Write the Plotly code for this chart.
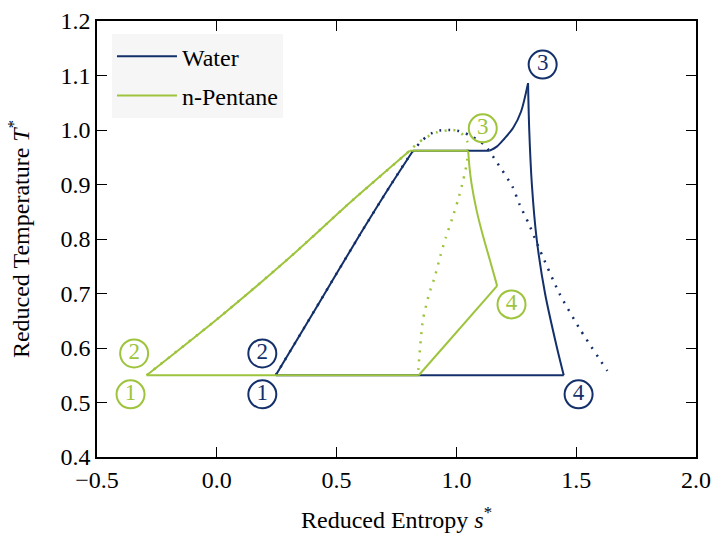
import plotly.graph_objects as go

# ---- Water cycle (reduced entropy s*, reduced temperature T*) ----
water_cycle_s = [0.246, 0.43, 0.60, 0.72, 0.819, 1.139, 1.17, 1.20, 1.237, 1.27, 1.299,
                 1.304, 1.315, 1.335, 1.37, 1.42, 1.448, 0.246]
water_cycle_T = [0.55, 0.685, 0.81, 0.895, 0.962, 0.962, 0.970, 0.984, 1.004, 1.034, 1.086,
                 1.0, 0.9, 0.8, 0.7, 0.6, 0.55, 0.55]
# index ranges of each process: (start, end, curved?)
water_segments = [(0, 4, True), (4, 5, False), (5, 10, True), (10, 16, True), (16, 17, False)]

# Water saturation dome
water_dome_s = [0.246, 0.43, 0.60, 0.72, 0.819, 0.86, 0.896, 0.931, 0.97, 1.01, 1.053,
                1.119, 1.167, 1.234, 1.265, 1.30, 1.348, 1.43, 1.515, 1.63]
water_dome_T = [0.55, 0.685, 0.81, 0.895, 0.962, 0.982, 0.994, 0.999, 1.0, 0.998, 0.991,
                0.972, 0.942, 0.896, 0.862, 0.83, 0.78, 0.70, 0.635, 0.558]

# ---- n-Pentane cycle ----
pentane_cycle_s = [-0.293, 0.0125, 0.291, 0.569, 0.805, 1.049, 1.055, 1.063, 1.084, 1.112,
                   1.14, 1.17, 0.843, -0.293]
pentane_cycle_T = [0.55, 0.657, 0.761, 0.872, 0.962, 0.962, 0.93, 0.902, 0.853, 0.804,
                   0.761, 0.714, 0.55, 0.55]
pentane_segments = [(0, 4, True), (4, 5, False), (5, 11, True), (11, 12, False), (12, 13, False)]

# n-Pentane saturation dome
pentane_dome_s = [-0.293, 0.0125, 0.291, 0.569, 0.805, 0.833, 0.868, 0.92, 0.984, 1.014,
                  1.045, 1.045, 1.028, 1.007, 0.982, 0.956, 0.933, 0.91, 0.886, 0.86,
                  0.843, 0.84]
pentane_dome_T = [0.55, 0.657, 0.761, 0.872, 0.962, 0.974, 0.985, 0.996, 1.0, 0.997,
                  0.979, 0.944, 0.907, 0.872, 0.837, 0.803, 0.769, 0.731, 0.699, 0.651,
                  0.572, 0.55]

# State-point labels
water_label_s = [0.19, 0.19, 1.36, 1.51]
water_label_T = [0.515, 0.59, 1.12, 0.515]
water_label_text = ["1", "2", "3", "4"]
pentane_label_s = [-0.36, -0.345, 1.11, 1.23]
pentane_label_T = [0.515, 0.59, 1.003, 0.68]
pentane_label_text = ["1", "2", "3", "4"]

NAVY = "#13306a"
GREEN = "#9dc43c"
SERIF = "Liberation Serif"
DOTS = "2px,7px"
FS = 24

fig = go.Figure()

fig.add_trace(go.Scatter(x=water_dome_s, y=water_dome_T, mode="lines",
                         line=dict(color=NAVY, width=2.5, dash=DOTS, shape="spline", smoothing=0.6),
                         showlegend=False, hoverinfo="skip"))
fig.add_trace(go.Scatter(x=pentane_dome_s, y=pentane_dome_T, mode="lines",
                         line=dict(color=GREEN, width=2.5, dash=DOTS, shape="spline", smoothing=0.6),
                         showlegend=False, hoverinfo="skip"))


def add_cycle(s, T, segments, name, group, color):
    for k, (a, b, curved) in enumerate(segments):
        fig.add_trace(go.Scatter(
            x=s[a:b + 1], y=T[a:b + 1], mode="lines", name=name,
            legendgroup=group, showlegend=(k == 0),
            line=dict(color=color, width=2, shape="spline" if curved else "linear",
                      smoothing=0.8)))


add_cycle(water_cycle_s, water_cycle_T, water_segments, "Water", "w", NAVY)
add_cycle(pentane_cycle_s, pentane_cycle_T, pentane_segments, "n-Pentane", "p", GREEN)

for xs, ys, txt, col in [(water_label_s, water_label_T, water_label_text, NAVY),
                         (pentane_label_s, pentane_label_T, pentane_label_text, GREEN)]:
    fig.add_trace(go.Scatter(
        x=xs, y=ys, mode="markers+text", text=txt, textposition="middle center",
        textfont=dict(family=SERIF, size=23, color=col),
        marker=dict(symbol="circle-open", size=28, color=col, line=dict(width=2, color=col)),
        showlegend=False, hoverinfo="skip"))

axis_common = dict(
    showgrid=False, zeroline=False, showline=True, linecolor="black", linewidth=1.5,
    mirror="ticks", ticks="inside", ticklen=10, tickwidth=1.2, tickcolor="black",
    tickfont=dict(family=SERIF, size=FS, color="black"), automargin=False,
)

fig.update_layout(
    width=714, height=538,
    margin=dict(l=97, r=18, t=21, b=81),
    paper_bgcolor="white", plot_bgcolor="white",
    font=dict(family=SERIF, color="black"),
    xaxis=dict(range=[-0.5, 2.0], tickvals=[-0.5, 0.0, 0.5, 1.0, 1.5, 2.0],
               ticktext=["\u22120.5", "0.0", "0.5", "1.0", "1.5", "2.0"],
               title=dict(text="Reduced Entropy <i>s</i><sup>*</sup>",
                          font=dict(family=SERIF, size=FS), standoff=20),
               **axis_common),
    yaxis=dict(range=[0.4, 1.2], tickvals=[0.4, 0.5, 0.6, 0.7, 0.8, 0.9, 1.0, 1.1, 1.2],
               ticktext=["0.4", "0.5", "0.6", "0.7", "0.8", "0.9", "1.0", "1.1", "1.2"],
               title=dict(text="Reduced Temperature <i>T</i><sup>*</sup>",
                          font=dict(family=SERIF, size=FS), standoff=24),
               **axis_common),
    legend=dict(x=0.025, y=0.97, xanchor="left", yanchor="top",
                bgcolor="#f6f6f6", borderwidth=0,
                font=dict(family=SERIF, size=FS, color="black"),
                tracegroupgap=5, traceorder="grouped", itemwidth=60),
    showlegend=True,
)

fig.write_html("out.html")
